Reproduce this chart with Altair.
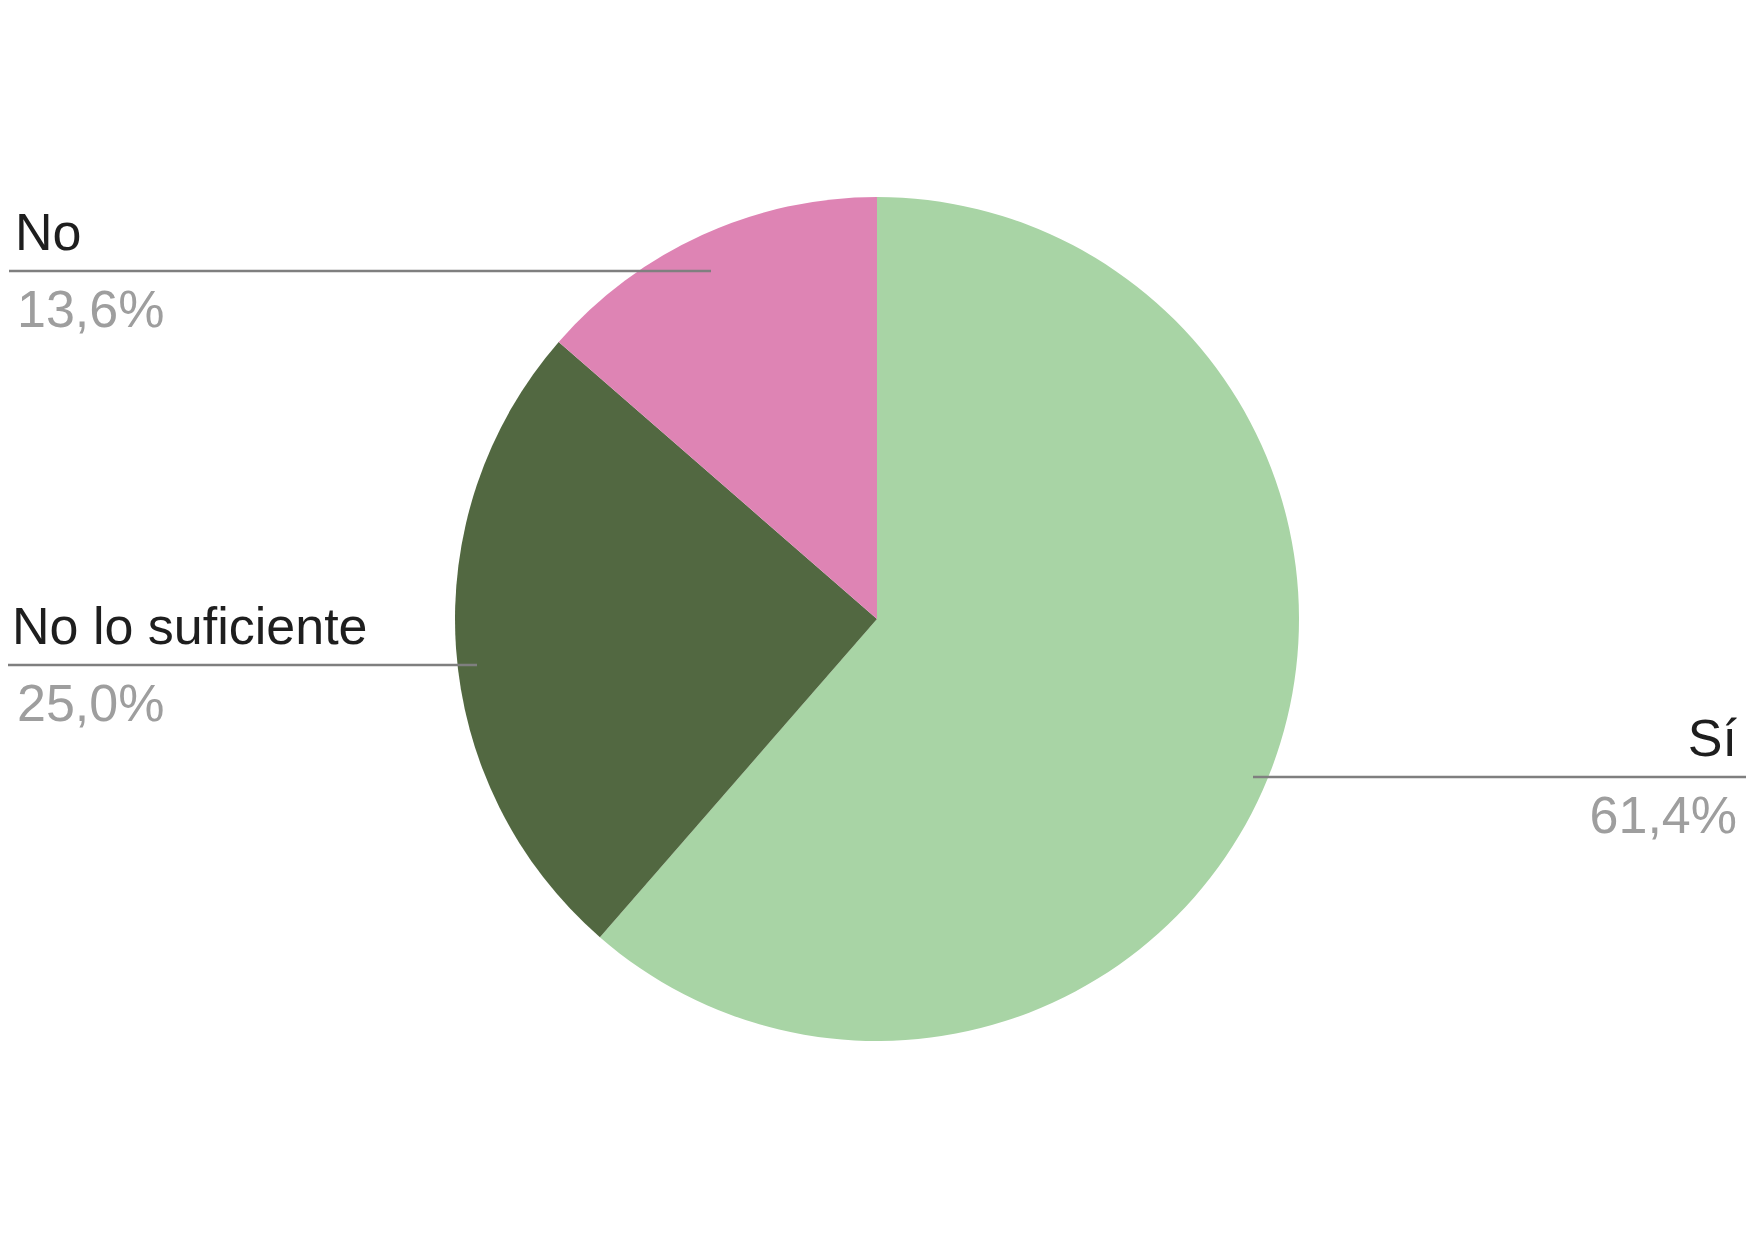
import altair as alt
import pandas as pd

# ---- data ----
categories = ["Sí", "No lo suficiente", "No"]
percentages = [61.4, 25.0, 13.6]
colors = ["#a8d4a5", "#526841", "#de84b4"]

# ---- layout (chart pixel coordinates, separate from data) ----
CX, CY, R = 869, 611, 422
label_x = [1729, 4, 7]
pct_x = [1729, 9, 9]
label_align = ["right", "left", "left"]
line_x1 = [1245, 0, 1]
line_x2 = [1739, 469, 703]
line_y = [769, 657, 263]

df = pd.DataFrame({
    "cat": categories,
    "pct": percentages,
    "order": list(range(len(categories))),
})

ann = pd.DataFrame({
    "cat": categories,
    "pct_txt": [f"{p:.1f}".replace(".", ",") + "%" for p in percentages],
    "lx": label_x,
    "px": pct_x,
    "align": label_align,
    "x1": line_x1,
    "x2": line_x2,
    "ly": line_y,
})
ann["label_y"] = ann["ly"] - 21
ann["pct_y"] = ann["ly"] + 56

pie = alt.Chart(df).mark_arc(radius=R, stroke=None).encode(
    theta=alt.Theta("pct:Q", stack=True),
    order=alt.Order("order:Q"),
    color=alt.Color("cat:N", scale=alt.Scale(domain=categories, range=colors), legend=None),
    x=alt.value(CX),
    y=alt.value(CY),
)

rules = alt.Chart(ann).mark_rule(color="#7f7f7f", strokeWidth=2.5).encode(
    x=alt.X("x1:Q", scale=None),
    x2="x2:Q",
    y=alt.Y("ly:Q", scale=None),
)

def text_layer(align):
    sub = ann[ann["align"] == align]
    lab = alt.Chart(sub).mark_text(
        align=align, baseline="alphabetic", font="Liberation Sans",
        fontSize=52, color="#1e1e1e",
    ).encode(
        x=alt.X("lx:Q", scale=None),
        y=alt.Y("label_y:Q", scale=None),
        text="cat:N",
    )
    pct = alt.Chart(sub).mark_text(
        align=align, baseline="alphabetic", font="Liberation Sans",
        fontSize=52, color="#9e9e9e",
    ).encode(
        x=alt.X("px:Q", scale=None),
        y=alt.Y("pct_y:Q", scale=None),
        text="pct_txt:N",
    )
    return lab + pct

chart = alt.layer(pie, rules, text_layer("left"), text_layer("right")).properties(
    width=1738, height=1225, padding=0,
    autosize=alt.AutoSizeParams(type="none"),
).configure_view(stroke=None)

chart.save("out.html", embed_options={"renderer": "svg", "actions": False})
